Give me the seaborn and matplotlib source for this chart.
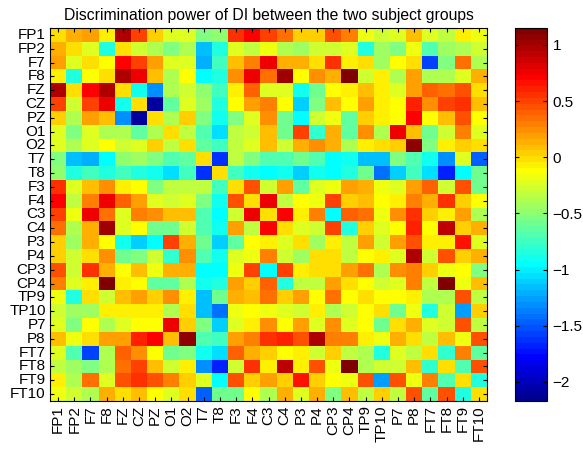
import numpy as np
import pandas as pd
import matplotlib
matplotlib.use("Agg")
import matplotlib.pyplot as plt
import seaborn as sns
from matplotlib.colors import ListedColormap

labels = ["FP1", "FP2", "F7", "F8", "FZ", "CZ", "PZ", "O1", "O2", "T7", "T8",
          "F3", "F4", "C3", "C4", "P3", "P4", "CP3", "CP4", "TP9", "TP10",
          "P7", "P8", "FT7", "FT8", "FT9", "FT10"]

# upper triangle of the (symmetric) matrix, row i holds columns i..26
r_FP1 = [0, 0.15, 0.2, -0.05, 0.95, 0.5, 0.05, -0.2, -0.25, -0.55, -0.5, 0.55, 0.7, 0.5, 0.35, 0.05, 0.05, 0.45, 0.3, -0.15, -0.3, -0.2, 0.1, -0.25, -0.35, -0.05, -0.15]
r_FP2 = [0, -0.2, -0.85, 0.0, -0.3, -0.4, -0.55, -0.4, -1.15, -0.85, -0.2, -0.35, -0.15, -0.4, -0.45, -0.3, -0.3, -0.25, -0.85, -0.45, -0.55, -0.15, -0.7, -0.45, -0.4, -0.3]
r_F7 = [0, -0.1, 0.7, 0.5, 0.2, -0.2, -0.2, -1.2, -0.75, 0.1, 0.3, 0.75, 0.15, 0.15, 0.0, 0.55, -0.05, 0.0, -0.45, -0.1, 0.0, -1.55, -0.55, 0.35, -0.4]
r_F8 = [0, 0.95, 0.75, 0.1, -0.4, -0.1, -0.95, -0.85, 0.25, 0.75, 0.35, 1.0, -0.1, 0.25, 0.15, 1.1, -0.3, -0.05, -0.4, 0.2, -0.4, -0.4, -0.25, 0.15]
r_FZ = [0, -0.9, -1.3, -0.4, -0.3, -0.5, -0.75, -0.05, 0.4, -0.25, -0.2, -0.9, -0.6, -0.1, -0.05, 0.1, -0.05, -0.2, 0.2, 0.4, 0.35, 0.45, 0.0]
r_CZ = [0, -2.1, -0.65, -0.2, -0.45, -0.85, -0.1, 0.2, 0.3, -0.1, -1.1, -0.55, 0.1, -0.1, 0.2, -0.05, -0.1, 0.6, 0.25, 0.5, 0.55, 0.1]
r_PZ = [0, -0.4, 0.05, -0.55, -0.9, -0.55, -0.2, 0.25, -0.6, -0.95, -0.3, -0.15, -0.65, 0.05, -0.05, -0.1, 0.7, -0.1, 0.1, 0.45, -0.1]
r_O1 = [0, -0.35, -0.7, -1.05, -0.35, -0.3, 0.1, -0.6, 0.5, -0.8, 0.15, -0.65, 0.25, -0.4, 0.75, 0.1, -0.6, -0.3, 0.3, -0.2]
r_O2 = [0, -0.65, -0.75, -0.35, -0.2, 0.1, -0.3, 0.15, 0.25, 0.15, -0.4, -0.05, 0.0, 0.05, 1.05, -0.55, -0.05, 0.05, 0.0]
r_T7 = [0, -1.6, -0.35, -0.55, -0.7, -0.7, -0.6, -0.7, -0.95, -0.9, -1.15, -1.15, -0.55, -0.7, -0.9, -1.3, -0.2, -1.45]
r_T8 = [0, -0.75, -0.9, -0.95, -0.9, -1.1, -0.9, -0.95, -0.85, -0.6, -1.4, -1.1, -0.75, -1.05, -1.7, -0.95, -0.6]
r_F3 = [0, 0.45, -0.3, 0.2, -0.65, -0.2, -0.15, 0.2, 0.15, -0.15, -0.25, 0.2, 0.4, -0.3, 0.45, -0.6]
r_F4 = [0, 0.75, -0.35, -0.1, -0.15, 0.5, 0.05, 0.1, -0.1, -0.05, 0.3, 0.15, 0.55, 0.05, -0.1]
r_C3 = [0, 0.7, -0.05, 0.3, -0.95, 0.4, 0.35, -0.15, 0.25, 0.55, 0.05, -0.05, 0.2, -0.4]
r_C4 = [0, -0.25, -0.3, 0.5, -0.85, 0.05, -0.2, -0.1, 0.6, -0.1, 0.9, 0.05, 0.15]
r_P3 = [0, -0.45, -0.05, -0.35, 0.2, -0.3, 0.2, 0.45, -0.05, -0.05, 0.65, -0.2]
r_P4 = [0, 0.0, -0.35, -0.1, -0.05, -0.25, 0.95, -0.3, 0.45, 0.05, 0.15]
r_CP3 = [0, 0.2, 0.35, -0.4, 0.25, 0.3, 0.05, -0.15, -0.1, -0.55]
r_CP4 = [0, -0.1, -0.3, -0.2, 0.3, -0.35, 1.1, -0.15, 0.1]
r_TP9 = [0, -0.1, -0.1, -0.05, -0.4, -0.4, 0.45, -0.35]
r_TP10 = [0, -0.6, -0.15, -0.85, -0.3, -1.25, 0.05]
r_P7 = [0, 0.15, -0.25, -0.3, 0.45, -0.35]
r_P8 = [0, -0.35, 0.1, -0.15, 0.45]
r_FT7 = [0, -0.8, 0.3, -0.65]
r_FT8 = [0, -0.7, 0.45]
r_FT9 = [0, -0.85]
r_FT10 = [0]

upper_rows = [r_FP1, r_FP2, r_F7, r_F8, r_FZ, r_CZ, r_PZ, r_O1, r_O2, r_T7, r_T8,
              r_F3, r_F4, r_C3, r_C4, r_P3, r_P4, r_CP3, r_CP4, r_TP9, r_TP10,
              r_P7, r_P8, r_FT7, r_FT8, r_FT9, r_FT10]

n = len(labels)
M = np.zeros((n, n))
for i, row in enumerate(upper_rows):
    M[i, i:] = row
    M[i:, i] = row
df = pd.DataFrame(M, index=labels, columns=labels)

cbar_ticks = [-2, -1.5, -1, -0.5, 0, 0.5, 1]
title = "Discrimination power of DI between the two subject groups"


def matlab_jet(N=64):
    m = N // 4
    u = np.concatenate([np.arange(1, m + 1) / m, np.ones(m - 1), np.arange(m, 0, -1) / m])
    g = int(np.ceil(m / 2)) - (1 if N % 4 == 1 else 0) + np.arange(1, len(u) + 1)
    r = g + m
    b = g - m
    J = np.zeros((N, 3))
    J[r[r <= N] - 1, 0] = u[r <= N]
    J[g[g <= N] - 1, 1] = u[g <= N]
    J[b[b >= 1] - 1, 2] = u[b >= 1]
    return ListedColormap(J)


plt.rcParams["font.family"] = ["Liberation Sans", "DejaVu Sans"]
plt.rcParams["text.color"] = "black"
plt.rcParams["xtick.color"] = "black"
plt.rcParams["ytick.color"] = "black"

fig = plt.figure(figsize=(5.83, 4.5), dpi=100)
W, H = 583.0, 450.0
ax = fig.add_axes([50 / W, 1 - 401 / H, 437 / W, 373 / H])
cax = fig.add_axes([515 / W, 1 - 401 / H, 32 / W, 373 / H])

sns.heatmap(df, ax=ax, cbar_ax=cax, cmap=matlab_jet(64), vmin=-2.17, vmax=1.15,
            xticklabels=labels, yticklabels=labels)

for s in ax.spines.values():
    s.set_visible(True)
    s.set_linewidth(0.8)
    s.set_color("black")
ax.set_xticklabels(labels, rotation=90, fontsize=11)
ax.set_yticklabels(labels, rotation=0, fontsize=11)
ax.tick_params(axis="both", which="major", direction="in", length=3, width=0.8,
               color="black", top=True, right=True, bottom=True, left=True,
               labeltop=False, labelright=False)
ax.tick_params(axis="y", pad=3)
ax.tick_params(axis="x", pad=3)
ax.set_title(title, fontsize=11.3, pad=6, color="black")

cb = ax.collections[0].colorbar
cb.outline.set_visible(True)
cb.outline.set_linewidth(0.8)
cb.outline.set_edgecolor("black")
cb.set_ticks(cbar_ticks)
cb.set_ticklabels(["\u22122", "\u22121.5", "\u22121", "\u22120.5", "0", "0.5", "1"])
cax.tick_params(axis="y", direction="in", left=True, right=True, length=3, width=0.8,
                labelsize=11, pad=4, color="black", labelleft=False, labelright=True)
cax.minorticks_off()

fig.savefig("out.png", dpi=100)
